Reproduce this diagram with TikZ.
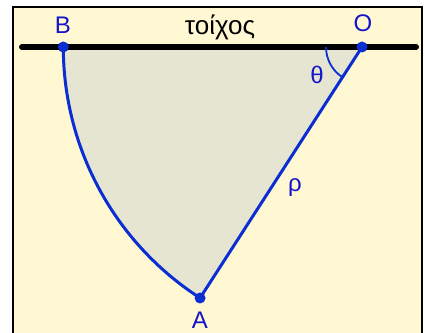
\documentclass[tikz,border=0pt]{standalone}
\usepackage{fontspec}
\setmainfont{Liberation Sans}
\usetikzlibrary{calc}
\definecolor{paperyellow}{HTML}{FFF8D2}
\definecolor{zonegrey}{HTML}{E6E5D2}
\definecolor{ropeblue}{HTML}{0A2ED2}
\definecolor{labelblue}{HTML}{1414C8}

\begin{document}
\begin{tikzpicture}[x=1pt,y=1pt,
    wall/.style={line width=6pt, line cap=round, black},
    rope/.style={line width=3pt, ropeblue},
    pin/.style={circle, fill=ropeblue, inner sep=0pt, minimum size=11pt},
    lbl/.style={labelblue, font=\fontsize{24}{28}\selectfont}]
  % Geometry: O fixed on the wall, A hangs at distance rho, B on the wall.
  \def\R{298.7}
  \pgfmathsetmacro{\angA}{237.17}

  % ---------- frame ----------
  \useasboundingbox (0,0) rectangle (425,332);
  \fill[white] (0,0) rectangle (425,332);
  \draw[line width=2.5pt, fill=paperyellow] (13,-10) rectangle (422,325);

  % ---------- points ----------
  \coordinate (O) at (362,285);
  \coordinate (A) at ($(O)+(\angA:\R)$);
  \coordinate (B) at ($(O)+(180:\R)$);

  % ---------- swept region ----------
  \fill[zonegrey] (O) -- (A) arc[start angle=\angA, end angle=180, radius=\R] -- cycle;

  % ---------- wall ----------
  \draw[wall] (22,285) -- (416,285);
  \node[font=\fontsize{26}{30}\selectfont] (wallname) at (220,305) {τοίχος};

  % ---------- rope and arc ----------
  \draw[rope] (O) -- (A);
  \draw[rope] (A) arc[start angle=\angA, end angle=180, radius=\R];
  \draw[ropeblue, line width=1.8pt] ($(O)+(180:36)$) arc[start angle=180, end angle=\angA, radius=36];

  \node[pin] (pO) at (O) {};
  \node[pin] (pA) at (A) {};
  \node[pin] (pB) at (B) {};

  % ---------- labels ----------
  \node[lbl] (lO) at (363,309) {O};
  \node[lbl] (lB) at (63,307) {B};
  \node[lbl] (lA) at (200,12) {A};
  \node[lbl] (lth) at (317,257) {θ};
  \node[lbl] (lrho) at (295,144) {ρ};
\end{tikzpicture}
\end{document}
